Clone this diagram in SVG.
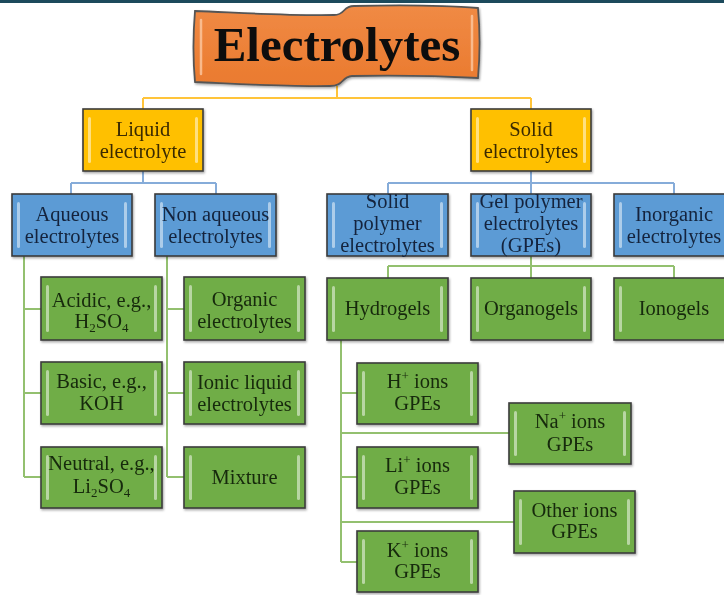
<svg xmlns="http://www.w3.org/2000/svg" width="724" height="595" viewBox="0 0 724 595">
<defs>
<style>
text{font-family:"Liberation Serif","Times New Roman",serif;font-size:20.5px;text-anchor:middle}
.b{stroke:#3b3b3b;stroke-width:1.6}
.y{fill:#ffc000}
.bl{fill:#5b9bd5}
.g{fill:#70ad47}
.hl{fill:#ffffff;opacity:.5}
.ty{fill:#3a2a05}
.tb{fill:#13243c}
.tg{fill:#17290c}
.cy{stroke:#ffc43a;stroke-width:2;fill:none}
.cb{stroke:#86acd9;stroke-width:2;fill:none}
.cg{stroke:#93c06f;stroke-width:2;fill:none}
.sub{font-size:13px}
</style>
<filter id="sh" x="-10%" y="-10%" width="120%" height="130%">
<feDropShadow dx="1" dy="1.5" stdDeviation="1" flood-color="#000" flood-opacity=".35"/>
</filter>
<linearGradient id="og" x1="0" y1="0" x2="0" y2="1">
<stop offset="0" stop-color="#f08a45"/>
<stop offset="1" stop-color="#ea7a2e"/>
</linearGradient>
</defs>
<rect x="0" y="0" width="724" height="595" fill="#ffffff"/>
<rect x="0" y="0" width="724" height="3" fill="#1c4a5c"/>

<g id="connectors">
<path class="cy" d="M337,86 V98 M143,98 H531 M143,98 V109 M531,98 V109"/>
<path class="cb" d="M143,171 V183 M71,183 H216 M71,183 V194 M216,183 V194"/>
<path class="cb" d="M531,171 V183 M388,183 H674 M388,183 V194 M531,183 V194 M674,183 V194"/>
<path class="cg" d="M24,256 V477 M24,309 H41 M24,393 H41 M24,477 H41"/>
<path class="cg" d="M167,256 V477 M167,309 H184 M167,393 H184 M167,477 H184"/>
<path class="cg" d="M531,256 V266 M388,266 H674 M388,266 V278 M531,266 V278 M674,266 V278"/>
<path class="cg" d="M341,340 V562 M341,393 H357 M341,433 H509 M341,477 H357 M341,522 H514 M341,562 H357"/>
</g>

<g id="n-electrolytes">
<path d="M195,11 C245,13 295,16 334,15 C346,15 342,6 354,6 C400,5 440,5 478,8 C480,30 480,55 478,78 C440,76 400,75 352,76 C341,77 344,86 330,86 C290,87 240,84 195,82 C193,60 193,35 195,11 Z" fill="url(#og)" stroke="#555" stroke-width="1.8" filter="url(#sh)"/>
<path d="M201,20 V74 M472,16 V70" stroke="#ffd2b0" stroke-width="2.5" stroke-linecap="round" opacity=".7"/>
<text x="337" y="61" style="font-size:49px;font-weight:bold;fill:#0d0d0d">Electrolytes</text>
</g>

<g id="n-liquid" filter="url(#sh)">
<rect class="b y" x="83" y="109" width="120" height="62"/>
<rect class="hl" x="88" y="117" width="3" height="46" rx="1.5"/><rect class="hl" x="195" y="117" width="3" height="46" rx="1.5"/>
<text class="ty" x="143" y="136">Liquid</text><text class="ty" x="143" y="158">electrolyte</text>
</g>
<g id="n-solid" filter="url(#sh)">
<rect class="b y" x="471" y="109" width="120" height="62"/>
<rect class="hl" x="476" y="117" width="3" height="46" rx="1.5"/><rect class="hl" x="583" y="117" width="3" height="46" rx="1.5"/>
<text class="ty" x="531" y="136">Solid</text><text class="ty" x="531" y="158">electrolytes</text>
</g>

<g id="n-aqueous" filter="url(#sh)">
<rect class="b bl" x="12" y="194" width="120" height="62"/>
<rect class="hl" x="17" y="202" width="3" height="46" rx="1.5"/><rect class="hl" x="124" y="202" width="3" height="46" rx="1.5"/>
<text class="tb" x="72" y="221">Aqueous</text><text class="tb" x="72" y="243">electrolytes</text>
</g>
<g id="n-nonaqueous" filter="url(#sh)">
<rect class="b bl" x="155" y="194" width="121" height="62"/>
<rect class="hl" x="160" y="202" width="3" height="46" rx="1.5"/><rect class="hl" x="268" y="202" width="3" height="46" rx="1.5"/>
<text class="tb" x="215.5" y="221">Non aqueous</text><text class="tb" x="215.5" y="243">electrolytes</text>
</g>
<g id="n-spe" filter="url(#sh)">
<rect class="b bl" x="327" y="194" width="121" height="62"/>
<rect class="hl" x="332" y="202" width="3" height="46" rx="1.5"/><rect class="hl" x="440" y="202" width="3" height="46" rx="1.5"/>
<text class="tb" x="387.5" y="208">Solid</text><text class="tb" x="387.5" y="230">polymer</text><text class="tb" x="387.5" y="252">electrolytes</text>
</g>
<g id="n-gpe" filter="url(#sh)">
<rect class="b bl" x="471" y="194" width="120" height="62"/>
<rect class="hl" x="476" y="202" width="3" height="46" rx="1.5"/><rect class="hl" x="583" y="202" width="3" height="46" rx="1.5"/>
<text class="tb" x="531" y="208">Gel polymer</text><text class="tb" x="531" y="230">electrolytes</text><text class="tb" x="531" y="252">(GPEs)</text>
</g>
<g id="n-inorganic" filter="url(#sh)">
<rect class="b bl" x="614" y="194" width="120" height="62"/>
<rect class="hl" x="619" y="202" width="3" height="46" rx="1.5"/>
<text class="tb" x="674" y="221">Inorganic</text><text class="tb" x="674" y="243">electrolytes</text>
</g>

<g id="n-acidic" filter="url(#sh)">
<rect class="b g" x="41" y="277" width="121" height="63"/>
<rect class="hl" x="46" y="285" width="3" height="47" rx="1.5"/><rect class="hl" x="154" y="285" width="3" height="47" rx="1.5"/>
<text class="tg" x="101.5" y="307">Acidic, e.g.,</text>
<text class="tg" x="101.5" y="328">H<tspan class="sub" dy="4">2</tspan><tspan dy="-4">SO</tspan><tspan class="sub" dy="4">4</tspan></text>
</g>
<g id="n-basic" filter="url(#sh)">
<rect class="b g" x="41" y="362" width="121" height="62"/>
<rect class="hl" x="46" y="370" width="3" height="46" rx="1.5"/><rect class="hl" x="154" y="370" width="3" height="46" rx="1.5"/>
<text class="tg" x="101.5" y="388">Basic, e.g.,</text><text class="tg" x="101.5" y="410">KOH</text>
</g>
<g id="n-neutral" filter="url(#sh)">
<rect class="b g" x="41" y="447" width="121" height="61"/>
<rect class="hl" x="46" y="455" width="3" height="45" rx="1.5"/><rect class="hl" x="154" y="455" width="3" height="45" rx="1.5"/>
<text class="tg" x="101.5" y="470">Neutral, e.g.,</text>
<text class="tg" x="101.5" y="493">Li<tspan class="sub" dy="4">2</tspan><tspan dy="-4">SO</tspan><tspan class="sub" dy="4">4</tspan></text>
</g>
<g id="n-organic" filter="url(#sh)">
<rect class="b g" x="184" y="277" width="121" height="63"/>
<rect class="hl" x="189" y="285" width="3" height="47" rx="1.5"/><rect class="hl" x="297" y="285" width="3" height="47" rx="1.5"/>
<text class="tg" x="244.5" y="306">Organic</text><text class="tg" x="244.5" y="328">electrolytes</text>
</g>
<g id="n-ionic" filter="url(#sh)">
<rect class="b g" x="184" y="362" width="121" height="62"/>
<rect class="hl" x="189" y="370" width="3" height="46" rx="1.5"/><rect class="hl" x="297" y="370" width="3" height="46" rx="1.5"/>
<text class="tg" x="244.5" y="389">Ionic liquid</text><text class="tg" x="244.5" y="411">electrolytes</text>
</g>
<g id="n-mixture" filter="url(#sh)">
<rect class="b g" x="184" y="447" width="121" height="61"/>
<rect class="hl" x="189" y="455" width="3" height="45" rx="1.5"/><rect class="hl" x="297" y="455" width="3" height="45" rx="1.5"/>
<text class="tg" x="244.5" y="484">Mixture</text>
</g>

<g id="n-hydrogels" filter="url(#sh)">
<rect class="b g" x="327" y="278" width="121" height="62"/>
<rect class="hl" x="332" y="286" width="3" height="46" rx="1.5"/><rect class="hl" x="440" y="286" width="3" height="46" rx="1.5"/>
<text class="tg" x="387.5" y="315">Hydrogels</text>
</g>
<g id="n-organogels" filter="url(#sh)">
<rect class="b g" x="471" y="278" width="120" height="62"/>
<rect class="hl" x="476" y="286" width="3" height="46" rx="1.5"/><rect class="hl" x="583" y="286" width="3" height="46" rx="1.5"/>
<text class="tg" x="531" y="315">Organogels</text>
</g>
<g id="n-ionogels" filter="url(#sh)">
<rect class="b g" x="614" y="278" width="120" height="62"/>
<rect class="hl" x="619" y="286" width="3" height="46" rx="1.5"/>
<text class="tg" x="674" y="315">Ionogels</text>
</g>

<g id="n-h" filter="url(#sh)">
<rect class="b g" x="357" y="363" width="121" height="61"/>
<rect class="hl" x="362" y="371" width="3" height="45" rx="1.5"/><rect class="hl" x="470" y="371" width="3" height="45" rx="1.5"/>
<text class="tg" x="417.5" y="388">H<tspan class="sub" dy="-8">+</tspan><tspan dy="8"> ions</tspan></text><text class="tg" x="417.5" y="410">GPEs</text>
</g>
<g id="n-na" filter="url(#sh)">
<rect class="b g" x="509" y="403" width="122" height="61"/>
<rect class="hl" x="514" y="411" width="3" height="45" rx="1.5"/><rect class="hl" x="623" y="411" width="3" height="45" rx="1.5"/>
<text class="tg" x="570" y="428">Na<tspan class="sub" dy="-8">+</tspan><tspan dy="8"> ions</tspan></text><text class="tg" x="570" y="451">GPEs</text>
</g>
<g id="n-li" filter="url(#sh)">
<rect class="b g" x="357" y="447" width="121" height="61"/>
<rect class="hl" x="362" y="455" width="3" height="45" rx="1.5"/><rect class="hl" x="470" y="455" width="3" height="45" rx="1.5"/>
<text class="tg" x="417.5" y="472">Li<tspan class="sub" dy="-8">+</tspan><tspan dy="8"> ions</tspan></text><text class="tg" x="417.5" y="494">GPEs</text>
</g>
<g id="n-other" filter="url(#sh)">
<rect class="b g" x="514" y="491" width="121" height="62"/>
<rect class="hl" x="519" y="499" width="3" height="46" rx="1.5"/><rect class="hl" x="627" y="499" width="3" height="46" rx="1.5"/>
<text class="tg" x="574.5" y="517">Other ions</text><text class="tg" x="574.5" y="538">GPEs</text>
</g>
<g id="n-k" filter="url(#sh)">
<rect class="b g" x="357" y="531" width="121" height="61"/>
<rect class="hl" x="362" y="539" width="3" height="45" rx="1.5"/><rect class="hl" x="470" y="539" width="3" height="45" rx="1.5"/>
<text class="tg" x="417.5" y="557">K<tspan class="sub" dy="-8">+</tspan><tspan dy="8"> ions</tspan></text><text class="tg" x="417.5" y="578">GPEs</text>
</g>
</svg>
